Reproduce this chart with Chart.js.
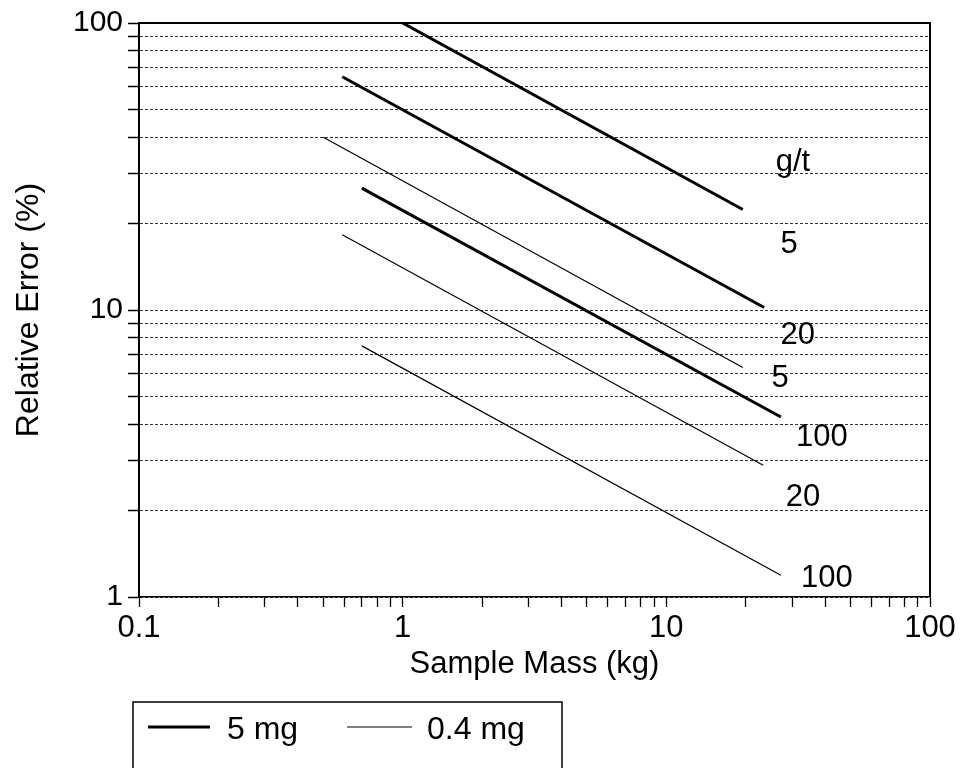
<!DOCTYPE html>
<html>
<head>
<meta charset="utf-8">
<title>Relative Error vs Sample Mass</title>
<script src="https://cdn.jsdelivr.net/npm/chart.js@4.4.1/dist/chart.umd.min.js"></script>
<style>
  html, body { margin: 0; padding: 0; background: #fff; }
  #chart { display: block; }
</style>
</head>
<body>
<canvas id="chart" width="961" height="768"></canvas>
<script>
// end points of each straight line (mass kg, relative error %)
const mass5mg5gt = [1.0, 19.5];     const err5mg5gt = [100, 22.4];
const mass5mg20gt = [0.59, 23.5];   const err5mg20gt = [65, 10.2];
const mass5mg100gt = [0.7, 27.2];   const err5mg100gt = [26.6, 4.24];
const mass04mg5gt = [0.5, 19.5];    const err04mg5gt = [40, 6.3];
const mass04mg20gt = [0.59, 23.3];  const err04mg20gt = [18.3, 2.88];
const mass04mg100gt = [0.7, 27.2];  const err04mg100gt = [7.5, 1.19];

const legendLabels = ['5 mg', '0.4 mg'];
const gradeLabels = ['5', '20', '100'];

// tick positions and the labels shown on them
const xTicks = [0.1, 0.2, 0.3, 0.4, 0.5, 0.6, 0.7, 0.8, 0.9,
                1, 2, 3, 4, 5, 6, 7, 8, 9,
                10, 20, 30, 40, 50, 60, 70, 80, 90, 100];
const yTicks = [1, 2, 3, 4, 5, 6, 7, 8, 9,
                10, 20, 30, 40, 50, 60, 70, 80, 90, 100];
const xTickLabels = ['0.1', '1', '10', '100'];
const yTickLabels = ['1', '10', '100'];

function pts(xs, ys) {
  return xs.map((x, i) => ({ x: x, y: ys[i] }));
}

const FONT = "'Liberation Sans', Arial, Helvetica, sans-serif";
Chart.defaults.font.family = FONT;
Chart.defaults.font.size = 30;
Chart.defaults.color = '#000';

const THICK = 3;
const THIN = 1.2;

// grade labels next to the line ends (data coords)
const endNotes = [
  { text: 'g/t', x: 30.2, y: 32.6 },
  { text: gradeLabels[0], x: 29.2, y: 16.9 },
  { text: gradeLabels[1], x: 31.5, y: 8.15 },
  { text: gradeLabels[0], x: 27, y: 5.78 },
  { text: gradeLabels[2], x: 38.9, y: 3.6 },
  { text: gradeLabels[1], x: 33, y: 2.23 },
  { text: gradeLabels[2], x: 40.6, y: 1.16 }
];

const endNotesPlugin = {
  id: 'endNotes',
  afterDatasetsDraw(chart) {
    const ctx = chart.ctx;
    const xs = chart.scales.x, ys = chart.scales.y;
    ctx.save();
    ctx.fillStyle = '#000';
    ctx.font = '31px ' + FONT;
    ctx.textAlign = 'center';
    ctx.textBaseline = 'middle';
    endNotes.forEach(n => {
      ctx.fillText(n.text, xs.getPixelForValue(n.x), ys.getPixelForValue(n.y));
    });
    ctx.restore();
  }
};

// top and right edges of the plot box
const framePlugin = {
  id: 'frame',
  afterDraw(chart) {
    const a = chart.chartArea, ctx = chart.ctx;
    ctx.save();
    ctx.strokeStyle = '#000';
    ctx.lineWidth = 2;
    ctx.beginPath();
    ctx.moveTo(a.left, a.top);
    ctx.lineTo(a.right, a.top);
    ctx.lineTo(a.right, a.bottom);
    ctx.stroke();
    ctx.restore();
  }
};

// boxed legend under the axis title
const legendBoxPlugin = {
  id: 'legendBox',
  afterDraw(chart) {
    const ctx = chart.ctx;
    ctx.save();
    ctx.strokeStyle = '#000';
    ctx.lineWidth = 1.5;
    ctx.strokeRect(133, 702, 429, 90);
    const items = [
      { label: legendLabels[0], ds: 0, x0: 148, x1: 210, tx: 227 },
      { label: legendLabels[1], ds: 3, x0: 347, x1: 412, tx: 427 }
    ];
    ctx.font = '32px ' + FONT;
    ctx.textBaseline = 'alphabetic';
    ctx.textAlign = 'left';
    ctx.fillStyle = '#000';
    items.forEach(it => {
      const ds = chart.data.datasets[it.ds];
      ctx.strokeStyle = ds.borderColor;
      ctx.lineWidth = ds.borderWidth;
      ctx.beginPath();
      ctx.moveTo(it.x0, 727);
      ctx.lineTo(it.x1, 727);
      ctx.stroke();
      ctx.fillText(it.label, it.tx, 739);
    });
    ctx.restore();
  }
};

function line(label, data, width) {
  return {
    label: label,
    data: data,
    borderColor: '#000',
    backgroundColor: '#000',
    borderWidth: width,
    pointRadius: 0,
    fill: false,
    tension: 0
  };
}

const ctx = document.getElementById('chart').getContext('2d');
new Chart(ctx, {
  type: 'line',
  data: {
    datasets: [
      line(legendLabels[0] + ' ' + gradeLabels[0] + ' g/t', pts(mass5mg5gt, err5mg5gt), THICK),
      line(legendLabels[0] + ' ' + gradeLabels[1] + ' g/t', pts(mass5mg20gt, err5mg20gt), THICK),
      line(legendLabels[0] + ' ' + gradeLabels[2] + ' g/t', pts(mass5mg100gt, err5mg100gt), THICK),
      line(legendLabels[1] + ' ' + gradeLabels[0] + ' g/t', pts(mass04mg5gt, err04mg5gt), THIN),
      line(legendLabels[1] + ' ' + gradeLabels[1] + ' g/t', pts(mass04mg20gt, err04mg20gt), THIN),
      line(legendLabels[1] + ' ' + gradeLabels[2] + ' g/t', pts(mass04mg100gt, err04mg100gt), THIN)
    ]
  },
  options: {
    responsive: false,
    animation: false,
    layout: { padding: { left: 0, top: 22, right: 31, bottom: 71 } },
    plugins: {
      legend: { display: false },
      tooltip: { enabled: false }
    },
    scales: {
      x: {
        type: 'logarithmic',
        min: 0.1,
        max: 100,
        afterBuildTicks: s => { s.ticks = xTicks.map(v => ({ value: v })); },
        afterFit: s => { s.height = 100; },
        ticks: {
          autoSkip: false,
          maxRotation: 0,
          padding: 3,
          font: { size: 31 },
          callback: v => (xTickLabels.includes(String(v)) ? String(v) : '')
        },
        grid: {
          drawOnChartArea: false,
          drawTicks: true,
          tickLength: 10,
          tickColor: '#000',
          tickWidth: 1.3
        },
        border: { display: true, color: '#000', width: 1.5 },
        title: {
          display: true,
          text: 'Sample Mass (kg)',
          font: { size: 31 },
          padding: { top: 0, bottom: 14 }
        }
      },
      y: {
        type: 'logarithmic',
        min: 1,
        max: 100,
        afterBuildTicks: s => { s.ticks = yTicks.map(v => ({ value: v })); },
        afterFit: s => { s.width = 139; },
        ticks: {
          autoSkip: false,
          padding: 5,
          font: { size: 30 },
          callback: v => (yTickLabels.includes(String(v)) ? String(v) : '')
        },
        grid: {
          drawOnChartArea: true,
          drawTicks: true,
          color: '#333',
          lineWidth: 1,
          tickLength: 11,
          tickColor: '#000',
          tickWidth: 1.5,
          tickBorderDash: []
        },
        border: { display: true, color: '#000', width: 2, dash: [3, 2] },
        title: {
          display: true,
          text: 'Relative Error (%)',
          font: { size: 32 },
          padding: { top: 10, bottom: 0 }
        }
      }
    }
  },
  plugins: [endNotesPlugin, framePlugin, legendBoxPlugin]
});
</script>
</body>
</html>
